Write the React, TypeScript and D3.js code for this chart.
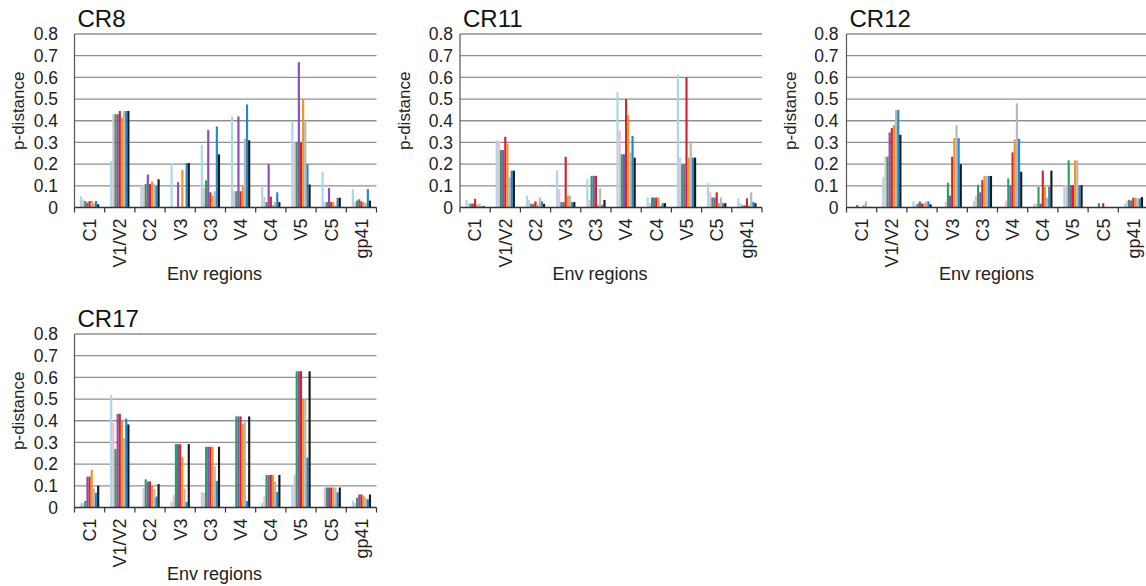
import React from "react";
import * as d3 from "d3";

// Env regions along the x axis
const regions = ["C1", "V1/V2", "C2", "V3", "C3", "V4", "C4", "V5", "C5", "gp41"];

// One colour per clone/series, in drawing order within each region
const seriesColors = [
  "#a8d8ea",
  "#f4b8d4",
  "#1fa65a",
  "#8b4cbc",
  "#d42424",
  "#f39320",
  "#b8b8b8",
  "#2088d2",
  "#1a1a1a",
];

const yTicks = [0, 0.1, 0.2, 0.3, 0.4, 0.5, 0.6, 0.7, 0.8];

// p-distance per region (rows) and series (columns)
const cr8 = [
  [0.052, 0.037, 0.03, 0.023, 0.03, 0.03, 0.02, 0.03, 0.015],
  [0.214, 0.43, 0.43, 0.43, 0.445, 0.414, 0.445, 0.445, 0.445],
  [0.1, 0.103, 0.108, 0.152, 0.108, 0.12, 0.11, 0.1, 0.13],
  [0.205, 0, 0, 0.117, 0, 0.174, 0, 0.205, 0.205],
  [0.288, 0.09, 0.125, 0.357, 0.07, 0.054, 0.075, 0.374, 0.245],
  [0.42, 0.075, 0.075, 0.42, 0.075, 0.1, 0.318, 0.475, 0.31],
  [0.1, 0.05, 0.025, 0.2, 0.05, 0.01, 0.025, 0.07, 0.025],
  [0.395, 0.3, 0.3, 0.67, 0.3, 0.5, 0.395, 0.2, 0.106],
  [0.165, 0.025, 0.025, 0.09, 0.025, 0.025, 0.01, 0.045, 0.045],
  [0.085, 0.025, 0.032, 0.038, 0.028, 0.025, 0.02, 0.085, 0.032],
];

const cr11 = [
  [0.035, 0.02, 0.018, 0.018, 0.04, 0.012, 0.018, 0.006, 0.006],
  [0.31, 0.305, 0.265, 0.265, 0.326, 0.295, 0.14, 0.17, 0.17],
  [0.055, 0.035, 0.017, 0.017, 0.028, 0.012, 0.046, 0.028, 0.017],
  [0.172, 0.083, 0.025, 0.025, 0.234, 0.055, 0.055, 0.025, 0.025],
  [0.13, 0.035, 0.146, 0.146, 0.146, 0.012, 0.088, 0.012, 0.035],
  [0.534, 0.355, 0.246, 0.246, 0.5, 0.426, 0.254, 0.33, 0.23],
  [0.046, 0.02, 0.046, 0.046, 0.046, 0.046, 0.01, 0.02, 0.02],
  [0.612, 0.23, 0.2, 0.2, 0.6, 0.23, 0.306, 0.23, 0.23],
  [0.112, 0.07, 0.046, 0.046, 0.07, 0.02, 0.046, 0.02, 0.02],
  [0.042, 0.02, 0.01, 0.01, 0.042, 0.01, 0.07, 0.026, 0.02],
];

const cr12 = [
  [0, 0, 0.012, 0, 0, 0.012, 0.028, 0, 0.003],
  [0.14, 0.234, 0.234, 0.346, 0.366, 0.38, 0.45, 0.45, 0.335],
  [0.028, 0.012, 0.018, 0.028, 0.018, 0.018, 0.028, 0.028, 0.015],
  [0, 0.025, 0.114, 0.055, 0.234, 0.32, 0.38, 0.32, 0.2],
  [0.03, 0.054, 0.105, 0.07, 0.126, 0.145, 0.145, 0.145, 0.145],
  [0, 0.032, 0.134, 0.103, 0.254, 0.314, 0.48, 0.317, 0.165],
  [0.018, 0.018, 0.095, 0.018, 0.17, 0.095, 0.046, 0.095, 0.17],
  [0.103, 0.103, 0.217, 0.103, 0.103, 0.217, 0.217, 0.103, 0.103],
  [0, 0, 0.02, 0, 0.02, 0, 0, 0, 0],
  [0.018, 0.032, 0.035, 0.032, 0.045, 0.045, 0.042, 0.042, 0.048],
];

const cr17 = [
  [0.02, 0.02, 0.03, 0.142, 0.142, 0.174, 0.088, 0.068, 0.1],
  [0.52, 0.39, 0.27, 0.432, 0.432, 0.4, 0.32, 0.41, 0.383],
  [0.003, 0.088, 0.13, 0.12, 0.12, 0.1, 0.085, 0.05, 0.108],
  [0.026, 0.057, 0.292, 0.292, 0.292, 0.234, 0.088, 0.026, 0.292],
  [0.07, 0.07, 0.28, 0.28, 0.28, 0.28, 0.19, 0.122, 0.28],
  [0, 0, 0.42, 0.42, 0.42, 0.385, 0.395, 0.03, 0.42],
  [0.022, 0.05, 0.15, 0.15, 0.15, 0.15, 0.12, 0.072, 0.15],
  [0.1, 0.15, 0.628, 0.628, 0.628, 0.5, 0.5, 0.23, 0.628],
  [0, 0.092, 0.092, 0.092, 0.092, 0.092, 0.092, 0.07, 0.092],
  [0.03, 0.022, 0.045, 0.06, 0.06, 0.055, 0.045, 0.038, 0.06],
];

const FONT = "'Liberation Sans', Arial, Helvetica, sans-serif";
const PLOT_W = 302;
const PLOT_H = 173.5;

type PanelProps = {
  title: string;
  values: number[][];
  x0: number;
  top: number;
  tickGap: number;
};

function Panel({ title, values, x0, top, tickGap }: PanelProps) {
  const bottom = top + PLOT_H;
  const x = d3
    .scaleBand<string>()
    .domain(regions)
    .range([x0, x0 + PLOT_W])
    .paddingInner(0.36)
    .paddingOuter(0.18);
  const xs = d3
    .scaleBand<number>()
    .domain(d3.range(seriesColors.length))
    .range([0, x.bandwidth()]);
  const y = d3.scaleLinear().domain([0, 0.8]).range([bottom, top]);
  const step = x.step();
  const boundaries = d3.range(regions.length + 1).map((i) => x0 + i * step);

  return (
    <g>
      <text x={x0 + 3} y={top - 7} fontFamily={FONT} fontSize={24} fill="#111">
        {title}
      </text>
      {yTicks
        .filter((t) => t > 0)
        .map((t) => (
          <line
            key={"g" + t}
            x1={x0}
            x2={x0 + PLOT_W}
            y1={y(t)}
            y2={y(t)}
            stroke="#8f8f8f"
            strokeWidth={1.3}
          />
        ))}
      {yTicks.map((t) => (
        <text
          key={"t" + t}
          x={x0 - tickGap}
          y={y(t)}
          dy="0.36em"
          textAnchor="end"
          fontFamily={FONT}
          fontSize={17.5}
          fill="#222"
        >
          {t === 0 ? "0" : t.toFixed(1)}
        </text>
      ))}
      <text
        transform={`translate(${x0 - 56},${top + PLOT_H / 2 - 10}) rotate(-90)`}
        textAnchor="middle"
        dy="0.35em"
        fontFamily={FONT}
        fontSize={17}
        fill="#222"
      >
        p-distance
      </text>
      {values.map((row, ri) =>
        row.map((v, si) => (
          <rect
            key={ri + "-" + si}
            x={(x(regions[ri]) ?? 0) + (xs(si) ?? 0)}
            y={y(v)}
            width={xs.bandwidth()}
            height={bottom - y(v)}
            fill={seriesColors[si]}
          />
        ))
      )}
      <line x1={x0} x2={x0} y1={top} y2={bottom} stroke="#555" strokeWidth={1.2} />
      <line x1={x0} x2={x0 + PLOT_W} y1={bottom} y2={bottom} stroke="#333" strokeWidth={1.5} />
      {boundaries.map((bx, i) => (
        <line key={"k" + i} x1={bx} x2={bx} y1={bottom} y2={bottom + 5} stroke="#333" strokeWidth={1.2} />
      ))}
      {regions.map((r) => (
        <text
          key={"x" + r}
          transform={`translate(${(x(r) ?? 0) + x.bandwidth() / 2},${bottom + 11}) rotate(-90)`}
          textAnchor="end"
          dy="0.35em"
          fontFamily={FONT}
          fontSize={18}
          fill="#222"
        >
          {r}
        </text>
      ))}
      <text
        x={x0 + PLOT_W / 2 - 11}
        y={bottom + 72}
        textAnchor="middle"
        fontFamily={FONT}
        fontSize={18}
        fill="#222"
      >
        Env regions
      </text>
    </g>
  );
}

export default function App() {
  return (
    <svg
      width={1146}
      height={586}
      style={{ position: "absolute", left: 0, top: 0, background: "#fff" }}
    >
      <rect width={1146} height={586} fill="#fff" />
      <Panel title="CR8" values={cr8} x0={74.5} top={34} tickGap={16.5} />
      <Panel title="CR11" values={cr11} x0={460} top={34} tickGap={7} />
      <Panel title="CR12" values={cr12} x0={846.5} top={34} tickGap={8} />
      <Panel title="CR17" values={cr17} x0={74.5} top={334} tickGap={16.5} />
    </svg>
  );
}
